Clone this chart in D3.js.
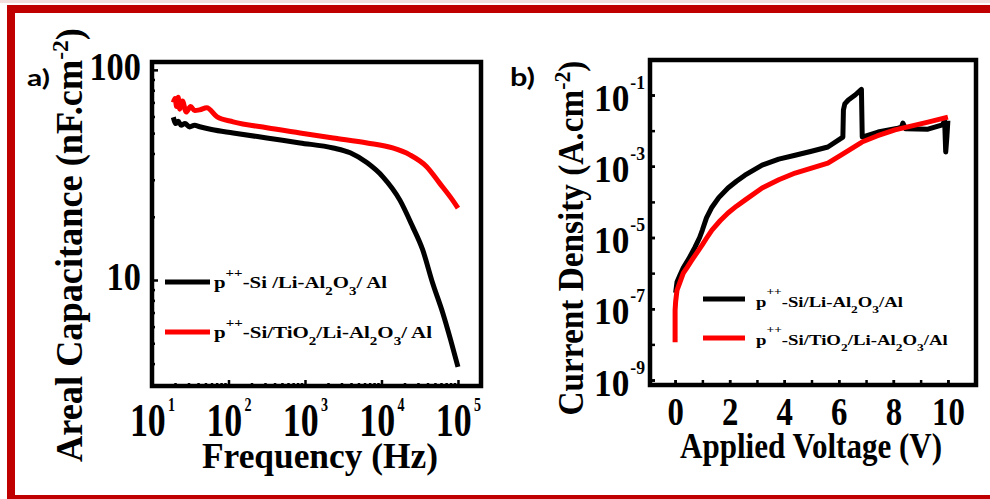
<!DOCTYPE html>
<html>
<head>
<meta charset="utf-8">
<style>
  body { margin: 0; background: #fff; }
  svg text { font-family: "Liberation Serif", "Times New Roman", serif; font-weight: bold; fill: #000; }
  svg text.sans { font-family: Lato, "Open Sans", "DejaVu Sans", sans-serif; }
</style>
</head>
<body>
<svg id="fig" width="990" height="499"></svg>
<script src="https://d3js.org/d3.v7.min.js"></script>
<script>
// ---- panel a: areal capacitance vs frequency ----
var freqBlack = [19, 20.5, 22, 24, 27, 31, 36, 42, 60, 115, 317, 860, 2340, 3900, 6500, 10500, 17400, 25600, 34600, 46500, 63000, 80000, 100000];
var capBlack  = [59.5, 55.5, 57, 54.5, 55.5, 53.5, 54.5, 53.6, 52, 50.1, 47.4, 44.9, 42.5, 40.3, 36.1, 30.9, 24, 17.9, 13.9, 9.7, 7.0, 5.2, 3.86];
var freqRed = [19, 20, 21, 22, 23, 25, 28, 32, 36, 42, 52, 71, 115, 317, 860, 2340, 6500, 14000, 23500, 39000, 57500, 85000, 100000];
var capRed  = [70, 73, 67, 74, 65, 71, 63, 67, 64, 64.5, 66, 59.7, 56.6, 53, 50.1, 47.4, 44.9, 42.5, 39.4, 34.6, 28.9, 24, 22];
var capMajor = [10, 100];
var capMinor = [4, 5, 6, 7, 8, 9, 20, 30, 40, 50, 60, 70, 80, 90];
var freqMajor = [1e1, 1e2, 1e3, 1e4, 1e5];
var freqMinor = [20, 30, 40, 50, 60, 70, 80, 90, 200, 300, 400, 500, 600, 700, 800, 900,
                 2e3, 3e3, 4e3, 5e3, 6e3, 7e3, 8e3, 9e3, 2e4, 3e4, 4e4, 5e4, 6e4, 7e4, 8e4, 9e4];

// ---- panel b: current density vs voltage (J stored as log10) ----
var voltBlack = [0.02, 0.07, 0.18, 0.3, 0.5, 0.73, 0.9, 1.0, 1.15, 1.35, 1.6, 1.94, 2.25, 2.56, 3.19, 3.8, 4.4, 5.0, 5.6, 6.15, 6.17, 6.22, 6.35, 6.6, 6.8, 6.83, 6.86, 7.44, 8.17, 8.3, 8.35, 8.45, 9.27, 9.8, 9.88, 9.92, 9.96, 10.0];
var logJBlack = [-6.55, -6.25, -6.05, -5.85, -5.6, -5.27, -5.0, -4.79, -4.45, -4.15, -3.88, -3.61, -3.42, -3.25, -2.97, -2.8, -2.69, -2.58, -2.46, -2.18, -1.42, -1.25, -1.14, -1.0, -0.86, -0.84, -2.18, -2.04, -1.93, -1.9, -1.79, -1.95, -1.96, -1.84, -1.72, -2.6, -2.2, -1.72];
var voltRed = [0.0, 0.0, 0.02, 0.07, 0.18, 0.3, 0.45, 0.62, 0.84, 1.0, 1.15, 1.35, 1.65, 1.94, 2.25, 2.56, 3.19, 3.8, 4.4, 5.0, 5.6, 6.2, 6.85, 7.4, 8.06, 9.27, 10.0];
var logJRed = [-7.94, -7.04, -6.8, -6.48, -6.25, -6.0, -5.83, -5.63, -5.38, -5.2, -5.02, -4.79, -4.53, -4.31, -4.12, -3.95, -3.61, -3.38, -3.19, -3.05, -2.91, -2.63, -2.32, -2.15, -1.98, -1.76, -1.62];
var jMajorExp = [-9, -7, -5, -3, -1];
var jAllExp = [-9, -8, -7, -6, -5, -4, -3, -2, -1];
var voltTicks = [0, 1, 2, 3, 4, 5, 6, 7, 8, 9, 10];
var voltLabels = [0, 2, 4, 6, 8, 10];

var legendA = [
  [['p', ''], ['++', 'sup'], ['-Si /Li-Al', ''], ['2', 'sub'], ['O', ''], ['3', 'sub'], ['/ Al', '']],
  [['p', ''], ['++', 'sup'], ['-Si/TiO', ''], ['2', 'sub'], ['/Li-Al', ''], ['2', 'sub'], ['O', ''], ['3', 'sub'], ['/ Al', '']]
];
var legendB = [
  [['p', ''], ['++', 'sup'], ['-Si/Li-Al', ''], ['2', 'sub'], ['O', ''], ['3', 'sub'], ['/Al', '']],
  [['p', ''], ['++', 'sup'], ['-Si/TiO', ''], ['2', 'sub'], ['/Li-Al', ''], ['2', 'sub'], ['O', ''], ['3', 'sub'], ['/Al', '']]
];

var svg = d3.select('#fig');
svg.append('rect').attr('width', 990).attr('height', 499).attr('fill', '#fff');

// red outer border
var border = '#c00000';
svg.append('rect').attr('x', 0).attr('y', 0).attr('width', 990).attr('height', 3).attr('fill', '#f3dede');
svg.append('rect').attr('x', 7).attr('y', 5).attr('width', 983).attr('height', 8).attr('fill', border);
svg.append('rect').attr('x', 7).attr('y', 5).attr('width', 8).attr('height', 494).attr('fill', border);
svg.append('rect').attr('x', 7).attr('y', 495).attr('width', 983).attr('height', 4).attr('fill', border);

// squeeze a text horizontally to a target width
function fitWidth(t, tx, ty, w, rot) {
  var bw = t.node().getBBox().width;
  t.attr('transform', 'translate(' + tx + ',' + ty + ')' + (rot ? ' rotate(' + rot + ')' : '') + ' scale(' + (w / bw) + ',1)');
}

function richText(parent, segs, size, supUp, subDown) {
  var t = parent.append('text').attr('font-size', size);
  var cur = 0;
  segs.forEach(function (s) {
    var target = s[1] === 'sup' ? -supUp : (s[1] === 'sub' ? subDown : 0);
    t.append('tspan').text(s[0])
      .attr('dy', target - cur)
      .attr('font-size', s[1] ? size * 0.72 : size);
    cur = target;
  });
  return t;
}

function powLabel(sel, exp, size, supSize, raise, gap) {
  sel.append('tspan').text('10').attr('font-size', size);
  sel.append('tspan').text(exp).attr('font-size', supSize).attr('dy', -raise).attr('dx', gap);
}

// ================= panel a =================
var xA = d3.scaleLog().domain([10, 2e5]).range([152, 481]);
var yA = d3.scaleLog().domain([3.13, 109]).range([386, 62]);

var gA = svg.append('g');
gA.append('g').attr('transform', 'translate(0,386)')
  .call(d3.axisBottom(xA).tickValues(freqMinor).tickSize(-3).tickFormat(''));
var axA = gA.append('g').attr('transform', 'translate(0,386)')
  .call(d3.axisBottom(xA).tickValues(freqMajor).tickSize(-6).tickFormat(''));
gA.append('g').attr('transform', 'translate(152,0)')
  .call(d3.axisLeft(yA).tickValues(capMinor).tickSize(-3).tickFormat(''));
var ayA = gA.append('g').attr('transform', 'translate(152,0)')
  .call(d3.axisLeft(yA).tickValues(capMajor).tickSize(-6).tickFormat(''));
gA.selectAll('.domain').remove();
gA.selectAll('.tick text').remove();
gA.selectAll('.tick line').attr('stroke-width', 2.5);

axA.selectAll('.tick').each(function (d) {
  var t = d3.select(this).append('text').attr('text-anchor', 'middle');
  powLabel(t, Math.round(Math.log10(d)), 46, 18, 25, 3);
  t.attr('transform', 'translate(0,50) scale(0.78,1)');
});
ayA.selectAll('.tick').each(function (d) {
  var t = d3.select(this).append('text').attr('text-anchor', 'end').attr('font-size', 40).text(d);
  t.attr('transform', 'translate(-11,10) scale(0.86,1)');
});

var lineA = d3.line().curve(d3.curveMonotoneX)
  .x(function (d) { return xA(d[0]); }).y(function (d) { return yA(d[1]); });
gA.append('path').datum(d3.zip(freqBlack, capBlack)).attr('d', lineA)
  .attr('fill', 'none').attr('stroke', '#000').attr('stroke-width', 5).attr('stroke-linejoin', 'round');
gA.append('path').datum(d3.zip(freqRed, capRed)).attr('d', lineA)
  .attr('fill', 'none').attr('stroke', '#ff0000').attr('stroke-width', 5).attr('stroke-linejoin', 'round');

gA.append('rect').attr('x', 152).attr('y', 62).attr('width', 329).attr('height', 324)
  .attr('fill', 'none').attr('stroke', '#000').attr('stroke-width', 4.5);

// legend a
[[282, '#000', 288], [332, '#ff0000', 338]].forEach(function (r, i) {
  gA.append('line').attr('x1', 165).attr('x2', 210).attr('y1', r[0]).attr('y2', r[0])
    .attr('stroke', r[1]).attr('stroke-width', 5);
  var t = richText(gA, legendA[i], 16, 11, 7);
  fitWidth(t, 214, r[2], i === 0 ? 174 : 219);
});

// titles a
var tx = gA.append('text').attr('font-size', 36).attr('text-anchor', 'middle').text('Frequency (Hz)');
fitWidth(tx, 320, 468, 236);
var ty = gA.append('text').attr('font-size', 37).attr('text-anchor', 'middle');
ty.append('tspan').text('Areal Capacitance (nF.cm');
ty.append('tspan').text('-2').attr('font-size', 24).attr('dy', -14);
ty.append('tspan').text(')').attr('dy', 14);
fitWidth(ty, 82, 245, 434, -90);
var la = gA.append('text').attr('class', 'sans').attr('font-size', 23).text('a)');
fitWidth(la, 27, 86, 23);

// ================= panel b =================
var xB = d3.scaleLinear().domain([-0.92, 11.03]).range([650, 976]);
var yB = d3.scaleLog().domain([Math.pow(10, -9.14), Math.pow(10, -0.017)]).range([385, 60]);

var gB = svg.append('g');
gB.append('g').attr('transform', 'translate(0,385)')
  .call(d3.axisBottom(xB).tickValues(voltTicks).tickSize(-5).tickFormat(''));
var axB = gB.append('g').attr('transform', 'translate(0,385)')
  .call(d3.axisBottom(xB).tickValues(voltLabels).tickSize(-5).tickFormat(''));
gB.append('g').attr('transform', 'translate(650,0)')
  .call(d3.axisLeft(yB).tickValues(jAllExp.map(function (e) { return Math.pow(10, e); })).tickSize(-5).tickFormat(''));
var ayB = gB.append('g').attr('transform', 'translate(650,0)')
  .call(d3.axisLeft(yB).tickValues(jMajorExp.map(function (e) { return Math.pow(10, e); })).tickSize(-5).tickFormat(''));
gB.selectAll('.domain').remove();
gB.selectAll('.tick text').remove();
gB.selectAll('.tick line').attr('stroke-width', 2.5);

axB.selectAll('.tick').each(function (d) {
  var t = d3.select(this).append('text').attr('text-anchor', 'middle').attr('font-size', 40).text(d);
  t.attr('transform', 'translate(0,40) scale(0.82,1)');
});
ayB.selectAll('.tick').each(function (d) {
  var t = d3.select(this).append('text').attr('text-anchor', 'end');
  powLabel(t, Math.round(Math.log10(d)), 38, 19, 22, 1);
  t.attr('transform', 'translate(-5,15) scale(0.93,1)');
});

var lineB = d3.line().x(function (d) { return xB(d[0]); }).y(function (d) { return yB(Math.pow(10, d[1])); });
gB.append('path').datum(d3.zip(voltBlack, logJBlack)).attr('d', lineB)
  .attr('fill', 'none').attr('stroke', '#000').attr('stroke-width', 5).attr('stroke-linejoin', 'round');
gB.append('path').datum(d3.zip(voltRed, logJRed)).attr('d', lineB)
  .attr('fill', 'none').attr('stroke', '#ff0000').attr('stroke-width', 5).attr('stroke-linejoin', 'round');

gB.append('rect').attr('x', 650).attr('y', 60).attr('width', 326).attr('height', 325)
  .attr('fill', 'none').attr('stroke', '#000').attr('stroke-width', 4.5);

// legend b
[[299, '#000', 307], [338, '#ff0000', 345]].forEach(function (r, i) {
  gB.append('line').attr('x1', 703).attr('x2', 745).attr('y1', r[0]).attr('y2', r[0])
    .attr('stroke', r[1]).attr('stroke-width', 5);
  var t = richText(gB, legendB[i], 15, 12, 6);
  fitWidth(t, 756, r[2], i === 0 ? 147 : 192);
});

var txb = gB.append('text').attr('font-size', 35).attr('text-anchor', 'middle').text('Applied Voltage (V)');
fitWidth(txb, 811, 458, 262);
var tyb = gB.append('text').attr('font-size', 35).attr('text-anchor', 'middle');
tyb.append('tspan').text('Current Density (A.cm');
tyb.append('tspan').text('-2').attr('font-size', 23).attr('dy', -13);
tyb.append('tspan').text(')').attr('dy', 13);
fitWidth(tyb, 583, 238, 355, -90);
var lb = gB.append('text').attr('class', 'sans').attr('font-size', 25).text('b)');
fitWidth(lb, 510, 86, 25);
</script>
</body>
</html>
